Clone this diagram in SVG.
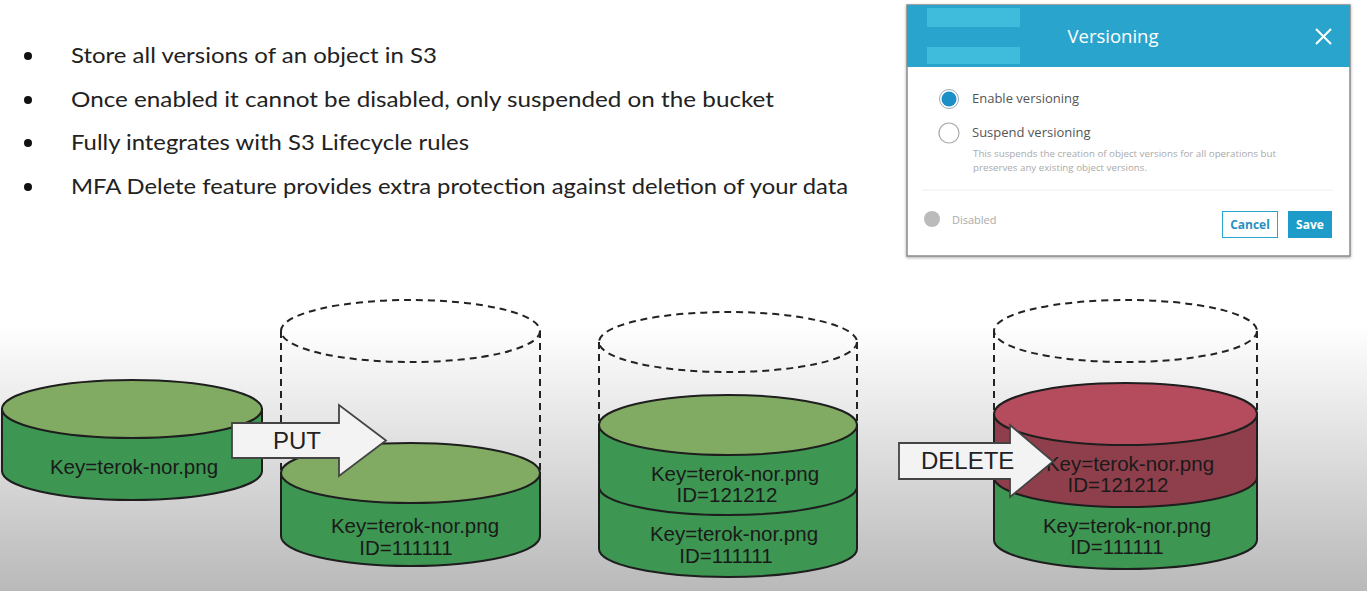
<svg xmlns="http://www.w3.org/2000/svg" width="1367" height="591" viewBox="0 0 1367 591">
<defs>
<linearGradient id="bg" x1="0" y1="0" x2="0" y2="591" gradientUnits="userSpaceOnUse">
<stop offset="0" stop-color="#ffffff"/>
<stop offset="0.55" stop-color="#ffffff"/>
<stop offset="1" stop-color="#b9b9b9"/>
</linearGradient>
<filter id="sh" x="-5%" y="-5%" width="110%" height="115%">
<feDropShadow dx="0" dy="1" stdDeviation="1.5" flood-color="#000" flood-opacity="0.35"/>
</filter>
<style>
.bul{font-family:Lato,"Open Sans",sans-serif;font-size:20.5px;fill:#222}
.ui{font-family:"Open Sans",Lato,sans-serif}
.lbl{font-family:"Liberation Sans",Arial,sans-serif;font-size:20.5px;fill:#1a1a1a;text-anchor:middle}
.arrtxt{font-family:"Liberation Sans",Arial,sans-serif;font-size:24px;fill:#222}
.gside{fill:#3d9651;stroke:#1e1e1e;stroke-width:2}
.gtop{fill:#81ab62;stroke:#1e1e1e;stroke-width:2}
.rside{fill:#8f3f4b;stroke:#1e1e1e;stroke-width:2}
.rtop{fill:#b44c5d;stroke:#1e1e1e;stroke-width:2}
.dash{fill:none;stroke:#222;stroke-width:2;stroke-dasharray:7 5}
.arr{fill:#f3f3f3;stroke:#444;stroke-width:1.8}
</style>
</defs>
<rect width="1367" height="591" fill="url(#bg)"/>

<g id="bullets">
<circle cx="28" cy="56" r="4" fill="#111"/>
<circle cx="28" cy="100" r="4" fill="#111"/>
<circle cx="28" cy="143" r="4" fill="#111"/>
<circle cx="28" cy="187" r="4" fill="#111"/>
<text class="bul" x="71" y="63" textLength="366" lengthAdjust="spacingAndGlyphs">Store all versions of an object in S3</text>
<text class="bul" x="71" y="107" textLength="703" lengthAdjust="spacingAndGlyphs">Once enabled it cannot be disabled, only suspended on the bucket</text>
<text class="bul" x="71" y="150" textLength="398" lengthAdjust="spacingAndGlyphs">Fully integrates with S3 Lifecycle rules</text>
<text class="bul" x="71" y="194" textLength="777" lengthAdjust="spacingAndGlyphs">MFA Delete feature provides extra protection against deletion of your data</text>
</g>

<g id="dialog">
<rect x="907" y="5" width="443" height="251" fill="#ffffff" stroke="#8a8a8a" stroke-width="1.5" filter="url(#sh)"/>
<rect x="907" y="5" width="443" height="62" fill="#29a5cd"/>
<rect x="927" y="8" width="93" height="19" fill="#3fbcdc"/>
<rect x="927" y="47" width="93" height="17" fill="#3fbcdc"/>
<text class="ui" x="1113" y="43" font-size="18.5" fill="#ffffff" text-anchor="middle">Versioning</text>
<path d="M1316,29 L1331,44 M1331,29 L1316,44" stroke="#ffffff" stroke-width="2" fill="none"/>
<circle cx="949" cy="99" r="9.5" fill="#ffffff" stroke="#9ab" stroke-width="1"/>
<circle cx="949" cy="99" r="7.5" fill="#1b8fc6"/>
<text class="ui" x="972" y="103" font-size="13" fill="#555">Enable versioning</text>
<circle cx="949" cy="133" r="10" fill="#ffffff" stroke="#aaa" stroke-width="1.2"/>
<text class="ui" x="972" y="137" font-size="13" fill="#555">Suspend versioning</text>
<text class="ui" x="973" y="157" font-size="9.5" fill="#aaa" textLength="303" lengthAdjust="spacingAndGlyphs">This suspends the creation of object versions for all operations but</text>
<text class="ui" x="973" y="171" font-size="9.5" fill="#aaa" textLength="174" lengthAdjust="spacingAndGlyphs">preserves any existing object versions.</text>
<line x1="922" y1="190" x2="1333" y2="190" stroke="#eeeeee" stroke-width="1"/>
<circle cx="932" cy="219" r="8" fill="#bbbbbb"/>
<text class="ui" x="952" y="224" font-size="11" fill="#aaa">Disabled</text>
<rect x="1222.5" y="211.5" width="55" height="26" fill="#ffffff" stroke="#29a5cd" stroke-width="1"/>
<text class="ui" x="1250" y="229" font-size="12" font-weight="bold" fill="#2a8fbf" text-anchor="middle">Cancel</text>
<rect x="1288" y="211" width="44" height="27" fill="#1d9bc9"/>
<text class="ui" x="1310" y="229" font-size="12" font-weight="bold" fill="#ffffff" text-anchor="middle">Save</text>
</g>

<g id="cylinder1">
<path class="gside" d="M2,409 L2,471 A130,29 0 0 0 262,471 L262,409 Z"/>
<ellipse class="gtop" cx="132" cy="409" rx="130" ry="29"/>
<text class="lbl" x="134" y="474">Key=terok-nor.png</text>
</g>

<g id="cylinder2">
<ellipse class="dash" cx="410.5" cy="331" rx="129.5" ry="31"/>
<path class="dash" d="M281,331 L281,473 M540,331 L540,473"/>
<path class="gside" d="M281,473 L281,536 A129.5,30 0 0 0 540,536 L540,473 Z"/>
<ellipse class="gtop" cx="410.5" cy="473" rx="129.5" ry="30"/>
<text class="lbl" x="415" y="533">Key=terok-nor.png</text>
<text class="lbl" x="406" y="555">ID=111111</text>
</g>

<g id="cylinder3">
<ellipse class="dash" cx="728" cy="342" rx="129" ry="30"/>
<path class="dash" d="M599,342 L599,425 M857,342 L857,425"/>
<path class="gside" d="M599,425 L599,549 A129,28 0 0 0 857,549 L857,425 Z"/>
<path d="M599,487 A129,28 0 0 0 857,487" fill="none" stroke="#1e1e1e" stroke-width="2"/>
<ellipse class="gtop" cx="728" cy="425" rx="129" ry="30"/>
<text class="lbl" x="735" y="481">Key=terok-nor.png</text>
<text class="lbl" x="727" y="502">ID=121212</text>
<text class="lbl" x="734" y="541">Key=terok-nor.png</text>
<text class="lbl" x="726" y="563">ID=111111</text>
</g>

<g id="cylinder4">
<ellipse class="dash" cx="1125.5" cy="331" rx="131.5" ry="31"/>
<path class="dash" d="M994,331 L994,414 M1257,331 L1257,414"/>
<path class="gside" d="M994,477 L994,540 A131.5,29 0 0 0 1257,540 L1257,477 Z"/>
<path class="rside" d="M994,414 L994,477 A131.5,30 0 0 0 1257,477 L1257,414 Z"/>
<ellipse class="rtop" cx="1125.5" cy="414" rx="131.5" ry="31"/>
<text class="lbl" x="1130" y="471">Key=terok-nor.png</text>
<text class="lbl" x="1118" y="492">ID=121212</text>
<text class="lbl" x="1127" y="533">Key=terok-nor.png</text>
<text class="lbl" x="1117" y="554">ID=111111</text>
</g>

<g id="connectors">
<g id="put">
<polygon class="arr" points="232,423 339,423 339,405 386,440.5 339,476 339,458 232,458"/>
<text class="arrtxt" x="273" y="449">PUT</text>
</g>
<g id="delete">
<polygon class="arr" points="899,443 1010,443 1010,425 1053,461.5 1010,497 1010,479 899,479"/>
<text class="arrtxt" x="921" y="469">DELETE</text>
</g>
</g>
</svg>
